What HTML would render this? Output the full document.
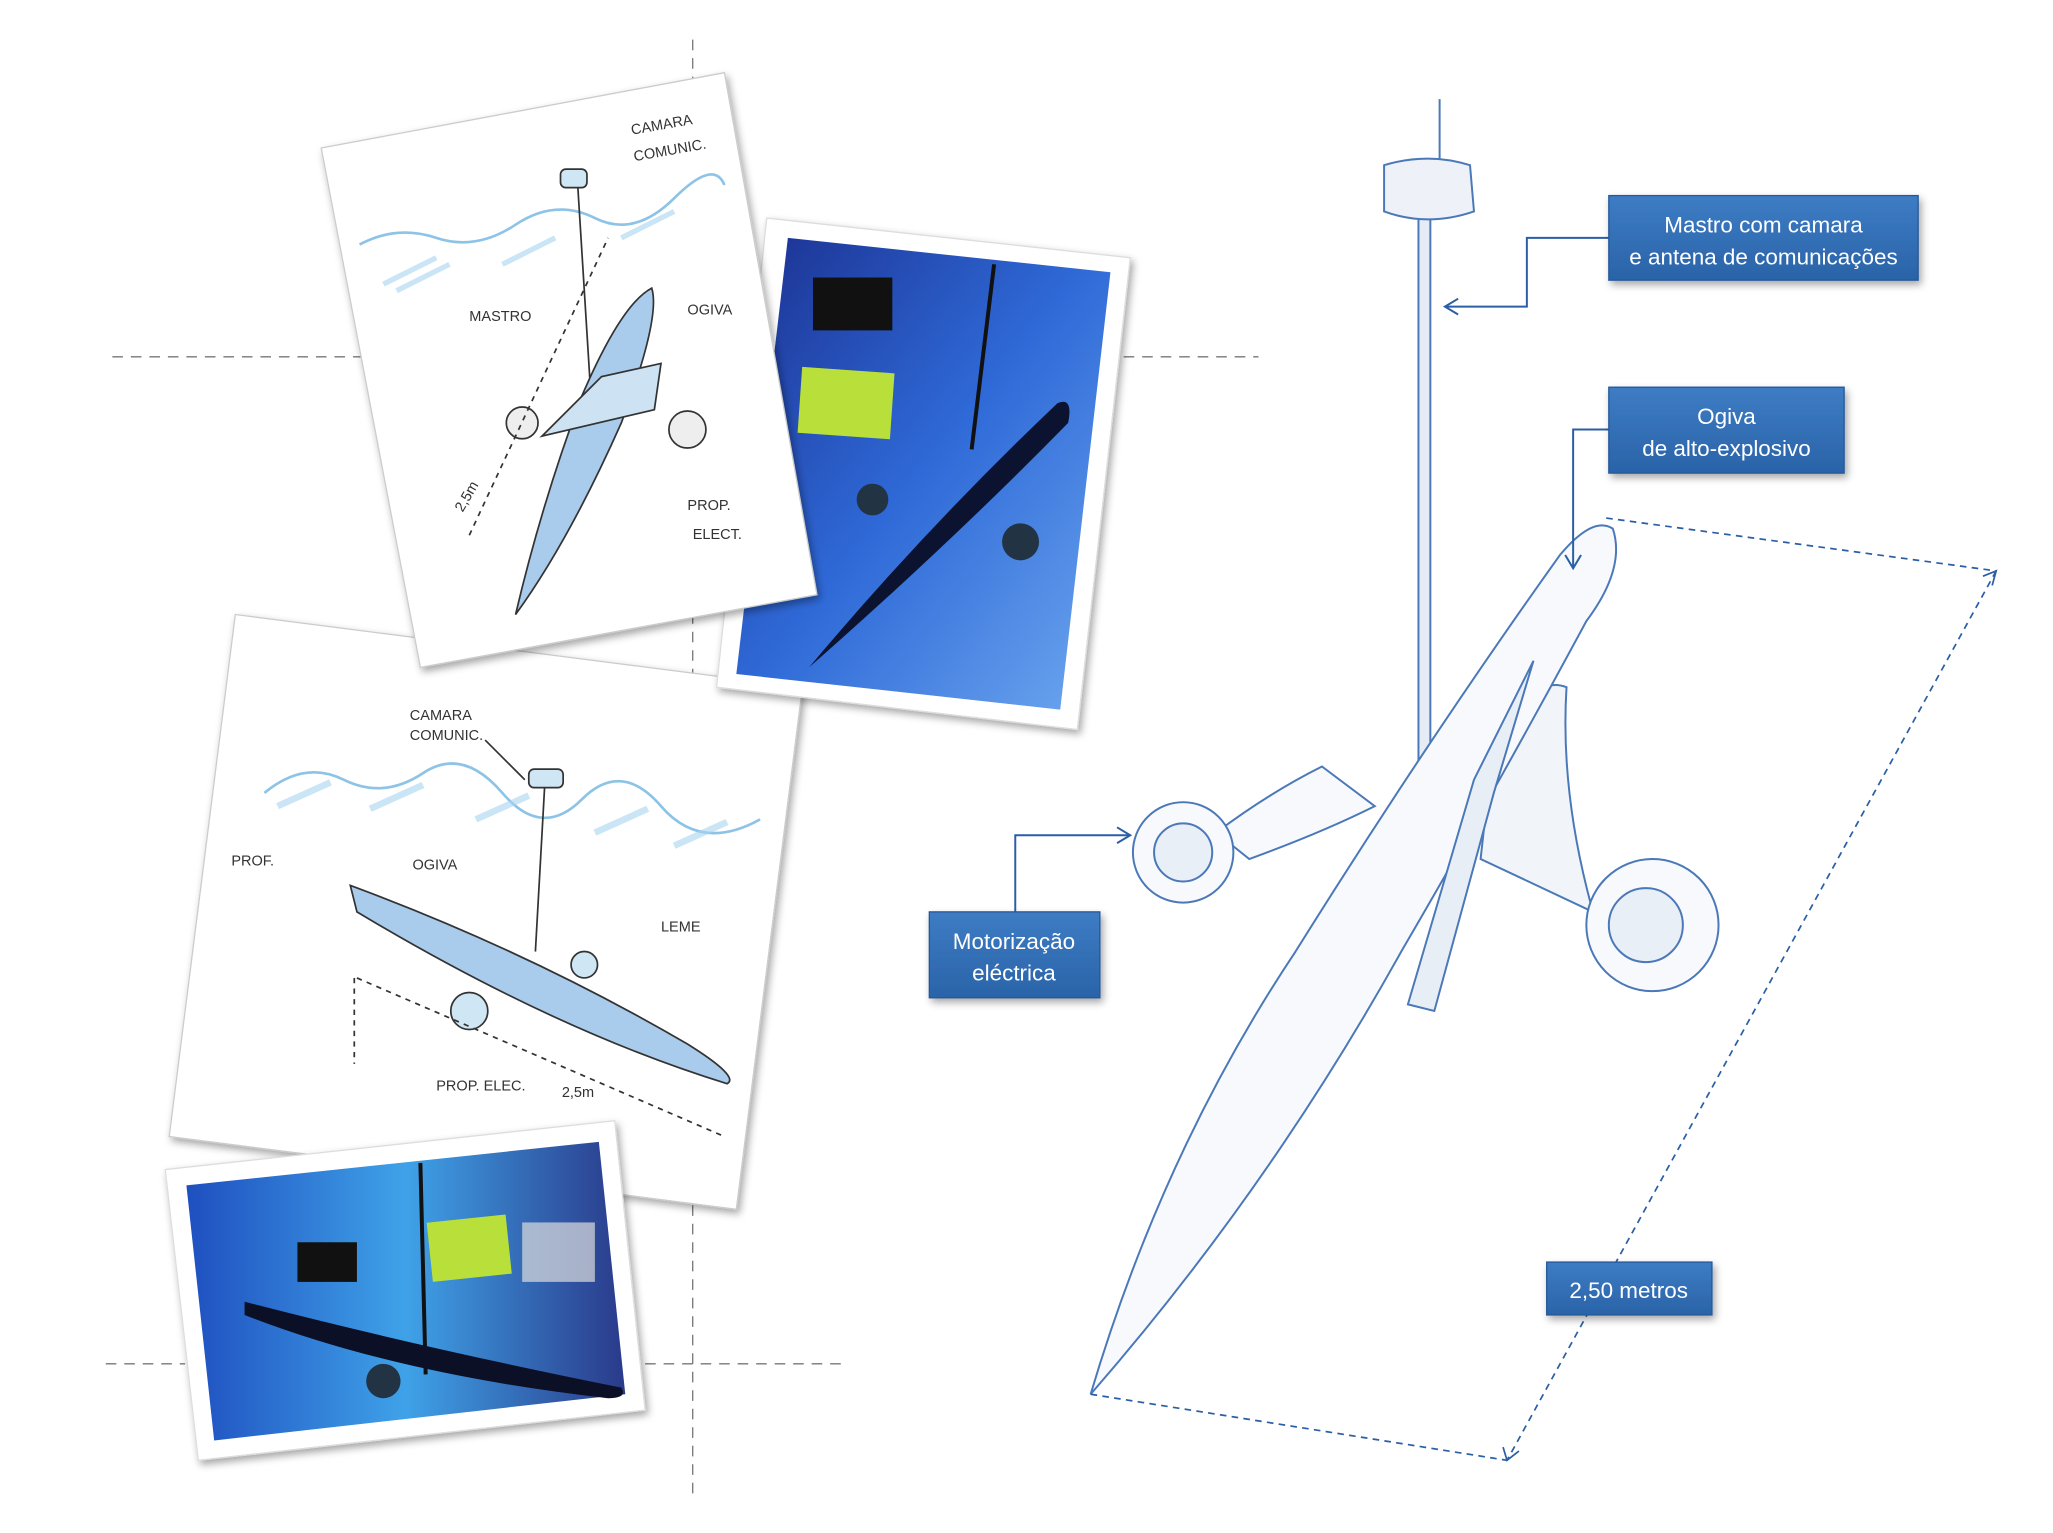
<!DOCTYPE html>
<html><head><meta charset="utf-8"><style>
html,body{margin:0;padding:0;background:#fff;}
svg{display:block;}
text{font-family:"Liberation Sans",sans-serif;}
</style></head><body>
<svg width="2053" height="1533" viewBox="0 0 1553 1160" preserveAspectRatio="none" xmlns="http://www.w3.org/2000/svg">
<defs>
<linearGradient id="lb" x1="0" y1="0" x2="0" y2="1"><stop offset="0" stop-color="#3d7cc4"/><stop offset="1" stop-color="#2a63a8"/></linearGradient>
<linearGradient id="ph" x1="0" y1="0" x2="1" y2="1"><stop offset="0" stop-color="#1b2f8f"/><stop offset="0.5" stop-color="#2f6ad8"/><stop offset="1" stop-color="#6ea8f0"/></linearGradient>
<linearGradient id="ph2" x1="0" y1="0" x2="1" y2="0"><stop offset="0" stop-color="#1f4fc0"/><stop offset="0.5" stop-color="#3fa2e8"/><stop offset="1" stop-color="#2a3a8a"/></linearGradient>
<filter id="sh" x="-10%" y="-10%" width="130%" height="130%"><feDropShadow dx="2" dy="3" stdDeviation="3" flood-color="#000" flood-opacity="0.35"/></filter>
</defs>

<g stroke="#777" stroke-width="1" stroke-dasharray="8,6" fill="none">
<line x1="524" y1="30" x2="524" y2="1130"/>
<line x1="85" y1="270" x2="275" y2="270"/>
<line x1="850" y1="270" x2="952" y2="270"/>
<line x1="80" y1="1032" x2="140" y2="1032"/>
<line x1="488" y1="1032" x2="636" y2="1032"/>
</g>

<!-- Sketch card 2 -->
<g filter="url(#sh)">
<polygon points="178,465 607,520 557,915 128,860" fill="#fff" stroke="#ccc"/>
</g>
<g stroke="#333" stroke-width="1.3" fill="none">
<path d="M200,600 Q230,575 260,590 T320,585 T380,600 T440,605 T500,610 T575,620" stroke="#8cc3e6" stroke-width="2"/>
<path d="M210,610 l40,-18 M280,612 l40,-18 M360,620 l40,-18 M450,630 l40,-18 M510,640 l40,-18" stroke="#a6d3ee" stroke-width="5" opacity="0.6"/>
<line x1="412" y1="595" x2="405" y2="720"/>
<rect x="400" y="582" width="26" height="14" rx="4" fill="#cfe6f5"/>
<path d="M265,670 Q400,720 520,790 Q560,815 550,820 Q420,780 270,690 Z" fill="#a9ccec"/>
<circle cx="355" cy="765" r="14" fill="#cfe6f5"/><circle cx="442" cy="730" r="10" fill="#cfe6f5"/>
<line x1="268" y1="740" x2="268" y2="805" stroke-dasharray="4,4"/>
<line x1="270" y1="740" x2="548" y2="860" stroke-dasharray="4,4"/>
<line x1="367" y1="560" x2="397" y2="590"/>
</g>
<g font-size="11" fill="#333">
<text x="310" y="545">CAMARA</text>
<text x="310" y="560">COMUNIC.</text>
<text x="175" y="655">PROF.</text>
<text x="312" y="658">OGIVA</text>
<text x="500" y="705">LEME</text>
<text x="330" y="825">PROP. ELEC.</text>
<text x="425" y="830">2,5m</text>
</g>

<!-- Photo 1 -->
<g filter="url(#sh)">
<polygon points="580,165 855,195 815,552 542,520" fill="#fff" stroke="#ddd"/>
</g>
<polygon points="596,180 840,206 802,537 557,510" fill="url(#ph)"/>
<rect x="605" y="280" width="70" height="50" fill="#b9e03a" transform="rotate(4 640 305)"/>
<rect x="615" y="210" width="60" height="40" fill="#111"/>
<line x1="752" y1="200" x2="735" y2="340" stroke="#111" stroke-width="3"/>
<path d="M612,505 Q700,400 800,305 Q812,300 808,320 Q720,410 612,505Z" fill="#0c1330"/>
<circle cx="660" cy="378" r="12" fill="#234"/><circle cx="772" cy="410" r="14" fill="#234"/>

<!-- Sketch card 1 -->
<g filter="url(#sh)">
<polygon points="243,112 548,55 618,450 318,505" fill="#fff" stroke="#ccc"/>
</g>
<g stroke="#333" stroke-width="1.3" fill="none">
<path d="M272,185 Q300,170 330,180 T390,170 T450,165 T510,150 T548,140" stroke="#8cc3e6" stroke-width="2"/>
<path d="M290,215 l40,-20 M300,220 l40,-20 M380,200 l40,-20 M470,180 l40,-20" stroke="#a6d3ee" stroke-width="4" opacity="0.6"/>
<line x1="437" y1="140" x2="447" y2="300"/>
<rect x="424" y="128" width="20" height="14" rx="4" fill="#cfe6f5"/>
<path d="M390,465 Q410,380 440,300 Q470,230 493,218 Q500,240 470,320 Q430,410 390,465Z" fill="#a9ccec"/>
<path d="M410,330 L455,285 L500,275 L495,310 Z" fill="#cde3f3"/>
<circle cx="395" cy="320" r="12" fill="#eee"/><circle cx="520" cy="325" r="14" fill="#eee"/>
<line x1="355" y1="405" x2="460" y2="180" stroke-dasharray="4,4"/>
</g>
<g font-size="11" fill="#333">
<text x="478" y="102" transform="rotate(-10 478 102)">CAMARA</text>
<text x="480" y="122" transform="rotate(-10 480 122)">COMUNIC.</text>
<text x="355" y="243">MASTRO</text>
<text x="520" y="238">OGIVA</text>
<text x="520" y="386">PROP.</text>
<text x="524" y="408">ELECT.</text>
<text x="350" y="388" transform="rotate(-60 350 388)">2,5m</text>
</g>

<!-- Photo 2 -->
<g filter="url(#sh)">
<polygon points="125,885 465,848 488,1067 150,1105" fill="#fff" stroke="#ddd"/>
</g>
<polygon points="141,897 453,864 473,1055 162,1090" fill="url(#ph2)"/>
<rect x="325" y="922" width="60" height="45" fill="#b9e03a" transform="rotate(-6 355 945)"/>
<rect x="225" y="940" width="45" height="30" fill="#111"/>
<rect x="395" y="925" width="55" height="45" fill="#ddd" opacity="0.7"/>
<line x1="318" y1="880" x2="322" y2="1040" stroke="#111" stroke-width="3"/>
<path d="M185,985 Q320,1020 470,1050 Q475,1058 460,1058 Q300,1040 185,995Z" fill="#0b1026"/>
<circle cx="290" cy="1045" r="13" fill="#234"/>

<!-- Torpedo drawing -->
<g stroke="#4a78b8" stroke-width="1.5" fill="#f7f9fc">
<line x1="1089" y1="75" x2="1089" y2="130"/>
<rect x="1073" y="160" width="9" height="440" fill="#e6ecf5"/>
<path d="M1047,125 Q1080,115 1112,125 L1115,160 Q1080,172 1047,160 Z" fill="#eef2f8"/>
<path d="M1000,580 Q960,600 920,630 L945,650 Q1000,630 1040,610 Z"/>
<path d="M1130,560 Q1160,510 1185,520 Q1180,600 1205,690 L1120,650 Z" fill="#f1f5fa"/>
<path d="M825,1055 Q880,870 980,720 Q1080,560 1180,420 Q1205,390 1220,400 Q1230,430 1200,470 Q1130,600 1060,720 Q960,900 825,1055 Z"/>
<path d="M1160,500 L1115,590 L1065,760 L1085,765 L1130,600 Z" fill="#e8eef6"/>
<circle cx="895" cy="645" r="38"/><circle cx="895" cy="645" r="22" fill="#e9eff7"/>
<circle cx="1250" cy="700" r="50"/><circle cx="1245" cy="700" r="28" fill="#e9eff7"/>
</g>

<g stroke="#2a5fa6" stroke-width="1.3" stroke-dasharray="5,4" fill="none">
<line x1="1215" y1="392" x2="1510" y2="432"/>
<line x1="1510" y1="432" x2="1140" y2="1105"/>
<line x1="825" y1="1055" x2="1140" y2="1105"/>
</g>
<g stroke="#2a5fa6" stroke-width="1.3" fill="none">
<path d="M1500,436 L1510,432 L1507,443"/>
<path d="M1137,1095 L1140,1105 L1149,1098"/>
</g>

<g stroke="#2a5fa6" stroke-width="1.5" fill="none">
<polyline points="1217,180 1155,180 1155,232 1093,232"/>
<path d="M1103,226 L1093,232 L1103,238"/>
<polyline points="1217,325 1190,325 1190,430"/>
<path d="M1184,420 L1190,430 L1196,420"/>
<polyline points="768,690 768,632 855,632"/>
<path d="M845,626 L855,632 L845,638"/>
</g>

<g filter="url(#sh)" fill="url(#lb)" stroke="#25589a">
<rect x="1217" y="148" width="234" height="64"/>
<rect x="1217" y="293" width="178" height="65"/>
<rect x="703" y="690" width="129" height="65"/>
<rect x="1170" y="955" width="125" height="40"/>
</g>
<g fill="#fff" font-size="17" text-anchor="middle">
<text x="1334" y="176">Mastro com camara</text>
<text x="1334" y="200">e antena de comunicações</text>
<text x="1306" y="321">Ogiva</text>
<text x="1306" y="345">de alto-explosivo</text>
<text x="767" y="718">Motorização</text>
<text x="767" y="742">eléctrica</text>
<text x="1232" y="982">2,50 metros</text>
</g>
</svg>
</body></html>
